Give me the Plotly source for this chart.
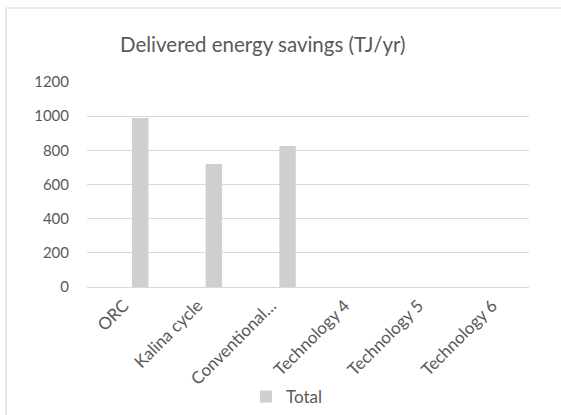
import plotly.graph_objects as go

categories = ["ORC", "Kalina cycle", "Conventional…", "Technology 4", "Technology 5", "Technology 6"]
total = [990, 720, 825, None, None, None]
y_ticks = [0, 200, 400, 600, 800, 1000, 1200]

W, H = 561, 415
L, R, T, B = 87, 32, 82, 128
pw, ph = W - L - R, H - T - B

def px_x(x):
    return (x - L) / pw

def px_y(y):
    return (H - B - y) / ph

fig = go.Figure()
fig.add_trace(go.Bar(
    x=categories, y=total, name="Total",
    marker=dict(color="#cfcfcf", line=dict(width=0)),
    width=0.223, offset=0.111,
))

font_family = "Lato, 'Open Sans', sans-serif"
border = dict(color="#d9d9d9", width=1.2)
fig.update_layout(
    width=W, height=H,
    margin=dict(l=L, r=R, t=T, b=B, autoexpand=False),
    paper_bgcolor="white", plot_bgcolor="white",
    font=dict(family=font_family, color="#595959", size=14),
    showlegend=True,
    legend=dict(orientation="h", x=px_x(287), xanchor="center", y=px_y(397), yanchor="middle",
                font=dict(size=17, color="#595959"), itemwidth=30),
    xaxis=dict(type="category", showgrid=False, showline=False, ticks="outside", ticklen=1,
               tickcolor="rgba(0,0,0,0)", tickangle=-45, automargin=False,
               tickfont=dict(size=17, color="#595959"), range=[-0.5, 5.5]),
    yaxis=dict(range=[0, 1200], tickvals=y_ticks, showgrid=True, gridcolor="#d9d9d9", gridwidth=1,
               zeroline=True, zerolinecolor="#d9d9d9", zerolinewidth=1, showline=False, ticks="",
               automargin=False, ticklabelstandoff=17,
               tickfont=dict(size=15, color="#595959")),
    shapes=[
        dict(type="line", xref="paper", yref="paper", x0=px_x(6), x1=px_x(561), y0=px_y(8), y1=px_y(8),
             line=border, layer="below"),
        dict(type="line", xref="paper", yref="paper", x0=px_x(6), x1=px_x(6), y0=px_y(8), y1=px_y(415),
             line=border, layer="below"),
    ],
    annotations=[dict(text="Delivered energy savings (TJ/yr)", xref="paper", yref="paper",
                      x=px_x(263), y=px_y(44), xanchor="center", yanchor="middle", showarrow=False,
                      font=dict(size=20.5, color="#595959", family=font_family))],
)

fig.write_html("out.html")
